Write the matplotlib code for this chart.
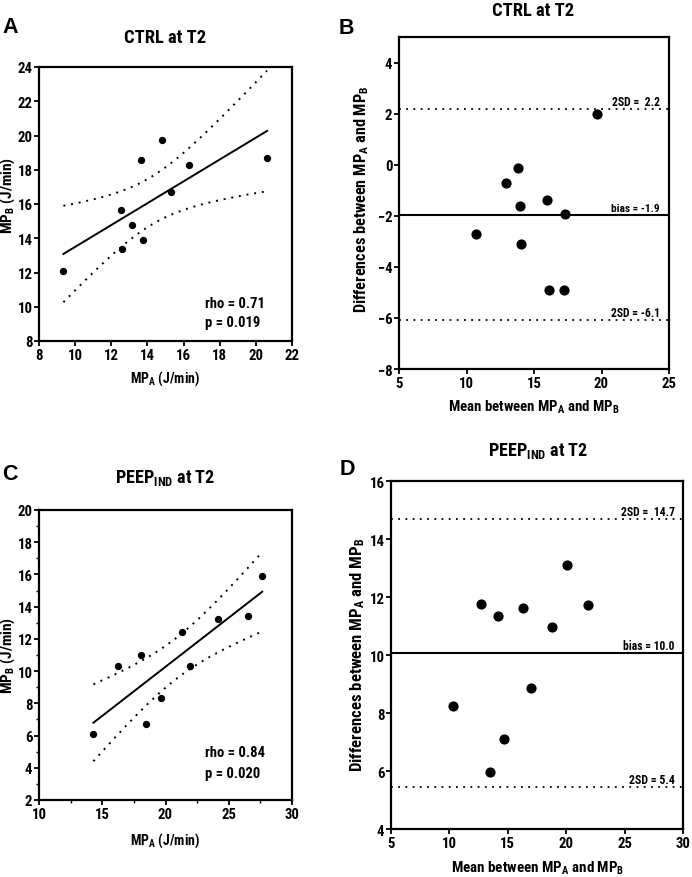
import numpy as np
import matplotlib
matplotlib.use('Agg')
import matplotlib.pyplot as plt
from matplotlib.ticker import MultipleLocator
from matplotlib import font_manager as fm

# ---------- pick a condensed font if one is installed ----------
names = sorted({f.name for f in fm.fontManager.ttflist})
cond_family = None
cond_stretch = 'normal'
for pref in ['Liberation Sans Narrow', 'Arial Narrow', 'Roboto Condensed',
             'Open Sans Condensed', 'Noto Sans Condensed', 'DejaVu Sans Condensed']:
    if pref in names:
        cond_family = pref
        break
if cond_family is None:
    for nm in names:
        if ('Narrow' in nm or 'Condensed' in nm) and 'Mono' not in nm and 'Serif' not in nm:
            cond_family = nm
            break
if cond_family is None:
    for f in fm.fontManager.ttflist:
        if str(f.stretch) in ('condensed', 'semi-condensed', 'extra-condensed') \
                and 'Serif' not in f.name and 'Mono' not in f.name:
            cond_family = f.name
            cond_stretch = 'condensed'
            break
if cond_family is None:
    cond_family = 'Liberation Sans'

plt.rcParams['font.family'] = [cond_family, 'DejaVu Sans']
plt.rcParams['font.stretch'] = cond_stretch
plt.rcParams['font.weight'] = 'bold'
plt.rcParams['mathtext.default'] = 'regular'

# ---------------- data ----------------
ctrl_mpa = [9.35, 12.54, 12.62, 13.15, 13.62, 13.74, 14.78, 15.28, 16.31, 20.62]
ctrl_mpb = [12.11, 15.66, 13.35, 14.79, 18.55, 13.90, 19.71, 16.69, 18.28, 18.71]
ctrl_rho_text = ["rho = 0.71", "p = 0.019"]

ctrl_mean = [10.73, 12.95, 13.79, 13.96, 14.06, 15.96, 16.09, 17.27, 17.25, 19.64]
ctrl_diff = [-2.73, -0.71, -0.12, -1.60, -3.11, -1.39, -4.92, -1.94, -4.92, 1.99]
ctrl_lines = [2.18, -1.96, -6.08]
ctrl_line_labels = ["2SD =  2.2", "bias = -1.9", "2SD = -6.1"]

peep_mpa = [14.30, 16.25, 18.10, 18.42, 19.68, 21.27, 21.95, 24.17, 26.49, 27.65]
peep_mpb = [6.07, 10.31, 11.01, 6.69, 8.34, 12.44, 10.33, 13.22, 13.41, 15.91]
peep_rho_text = ["rho = 0.84", "p = 0.020"]

peep_mean = [10.28, 12.67, 13.44, 14.15, 14.66, 16.28, 16.96, 18.81, 20.09, 21.90]
peep_diff = [8.23, 11.75, 5.96, 11.36, 7.12, 11.62, 8.87, 10.96, 13.10, 11.74]
peep_lines = [14.70, 10.06, 5.44]
peep_line_labels = ["2SD =  14.7", "bias = 10.0", "2SD = 5.4"]

T_CRIT = 2.306  # t(0.975, df=8)

W, H = 692, 878
fig = plt.figure(figsize=(W / 100, H / 100), dpi=100)
R = fig.canvas.get_renderer()


def rect(l, t, r, b):
    return [l / W, 1 - b / H, (r - l) / W, (b - t) / H]


def px(x, y):
    return x / W, 1 - y / H


def fit(t, target, vertical=False):
    """scale the font size of a text so that it spans `target` pixels"""
    for _ in range(2):
        bb = t.get_window_extent(renderer=R)
        cur = bb.height if vertical else bb.width
        if cur > 2:
            t.set_fontsize(t.get_fontsize() * target / cur)
    return t


# tick label size: "10" should be about 15 px wide
probe = fig.text(0.5, 0.5, '10', fontsize=10, fontweight='bold')
fit(probe, 15)
TICK_FS = min(max(probe.get_fontsize(), 7), 14)
probe.remove()


def style(ax):
    for s in ax.spines.values():
        s.set_linewidth(1.6)
    ax.tick_params(direction='out', length=3.5, width=1.3, labelsize=TICK_FS,
                   top=False, right=False)
    ax.tick_params(axis='y', pad=1.2)
    ax.tick_params(axis='x', pad=1.8)
    ax.tick_params(which='minor', direction='out', length=2.2, width=1.0)
    for lab in ax.get_xticklabels() + ax.get_yticklabels():
        lab.set_fontweight('bold')


def regression_panel(ax, xs, ys, rho_text, ybase, widths):
    xs = np.asarray(xs); ys = np.asarray(ys)
    n = len(xs)
    slope, icpt = np.polyfit(xs, ys, 1)
    xx = np.linspace(xs.min(), xs.max(), 100)
    yy = slope * xx + icpt
    res = ys - (slope * xs + icpt)
    s = np.sqrt(np.sum(res ** 2) / (n - 2))
    sxx = np.sum((xs - xs.mean()) ** 2)
    se = s * np.sqrt(1 / n + (xx - xs.mean()) ** 2 / sxx)
    ax.plot(xx, yy, color='black', lw=1.4)
    ax.plot(xx, yy + T_CRIT * se, color='black', lw=1.4, ls=(0, (1, 3)))
    ax.plot(xx, yy - T_CRIT * se, color='black', lw=1.4, ls=(0, (1, 3)))
    ax.scatter(xs, ys, s=18, color='black', zorder=3)
    for txt, yb, wd in zip(rho_text, ybase, widths):
        t = fig.text(*px(205, yb), txt, fontsize=12, fontweight='bold',
                     va='baseline', ha='left')
        fit(t, wd)


def ba_panel(ax, xs, ys, lines, labels, lx, widths):
    ax.axhline(lines[0], color='black', lw=1.3, ls=(0, (1, 3)))
    ax.axhline(lines[1], color='black', lw=1.5)
    ax.axhline(lines[2], color='black', lw=1.3, ls=(0, (1, 3)))
    ax.scatter(xs, ys, s=40, color='black', zorder=3)
    for v, lab, wd in zip(lines, labels, widths):
        t = ax.annotate(lab, xy=(lx, v), xytext=(0, 3), textcoords='offset points',
                        ha='right', va='baseline', fontsize=9, fontweight='bold',
                        annotation_clip=False)
        fit(t, wd)


# ---------- Panel A ----------
axA = fig.add_axes(rect(39, 68, 292, 342))
axA.set_xlim(8, 22); axA.set_ylim(8, 24)
regression_panel(axA, ctrl_mpa, ctrl_mpb, ctrl_rho_text, (308, 327), (60, 55))
axA.set_xlim(8, 22); axA.set_ylim(8, 24)
axA.xaxis.set_major_locator(MultipleLocator(2))
axA.yaxis.set_major_locator(MultipleLocator(2))
style(axA)

# ---------- Panel B ----------
axB = fig.add_axes(rect(399, 38, 669, 370))
axB.set_xlim(5, 25); axB.set_ylim(-8, 5)
ba_panel(axB, ctrl_mean, ctrl_diff, ctrl_lines, ctrl_line_labels, 24.3, (48, 49, 49))
axB.set_xlim(5, 25); axB.set_ylim(-8, 5)
axB.xaxis.set_major_locator(MultipleLocator(5))
axB.set_yticks([-8, -6, -4, -2, 0, 2, 4])
style(axB)

# ---------- Panel C ----------
axC = fig.add_axes(rect(39, 511, 292, 801))
axC.set_xlim(10, 30); axC.set_ylim(2, 20)
regression_panel(axC, peep_mpa, peep_mpb, peep_rho_text, (757, 778), (60, 55))
axC.set_xlim(10, 30); axC.set_ylim(2, 20)
axC.xaxis.set_major_locator(MultipleLocator(5))
axC.xaxis.set_minor_locator(MultipleLocator(2.5))
axC.yaxis.set_major_locator(MultipleLocator(2))
axC.yaxis.set_minor_locator(MultipleLocator(1))
style(axC)

# ---------- Panel D ----------
axD = fig.add_axes(rect(391, 482, 683, 830))
axD.set_xlim(5, 30); axD.set_ylim(4, 16)
ba_panel(axD, peep_mean, peep_diff, peep_lines, peep_line_labels, 29.3, (54, 52, 46))
axD.set_xlim(5, 30); axD.set_ylim(4, 16)
axD.xaxis.set_major_locator(MultipleLocator(5))
axD.yaxis.set_major_locator(MultipleLocator(2))
style(axD)

# ---------- titles ----------
for (x, y, txt, wd) in [(165, 43, 'CTRL at T2', 82), (533, 16, 'CTRL at T2', 82),
                        (165, 483, r'PEEP$_{IND}$ at T2', 100),
                        (538, 456, r'PEEP$_{IND}$ at T2', 100)]:
    t = fig.text(*px(x, y), txt, ha='center', va='baseline', fontsize=13, fontweight='bold')
    fit(t, wd)

# ---------- panel letters ----------
lfam = ['Liberation Sans', 'DejaVu Sans']
for (x, y, t) in [(2, 33, 'A'), (339, 34, 'B'), (2, 480, 'C'), (340, 475, 'D')]:
    fig.text(*px(x, y), t, ha='left', va='baseline', fontsize=15.5, fontweight='bold',
             family=lfam, stretch='normal')

# ---------- axis labels ----------
for (x, y, txt, wd) in [(165, 383, r'MP$_A$ (J/min)', 70),
                        (534, 412, r'Mean between MP$_A$ and MP$_B$', 172),
                        (165, 845, r'MP$_A$ (J/min)', 70),
                        (538, 873, r'Mean between MP$_A$ and MP$_B$', 173)]:
    t = fig.text(*px(x, y), txt, ha='center', va='baseline', fontsize=12, fontweight='bold')
    fit(t, wd)

for (x, y, txt, ht) in [(8, 195, r'MP$_B$ (J/min)', 77),
                        (362, 199, r'Differences between MP$_A$ and MP$_B$', 228),
                        (8, 655, r'MP$_B$ (J/min)', 77),
                        (358, 655, r'Differences between MP$_A$ and MP$_B$', 235)]:
    t = fig.text(*px(x, y), txt, ha='center', va='center', rotation=90,
                 fontsize=12, fontweight='bold')
    fit(t, ht, vertical=True)

fig.savefig('out.png', dpi=100)
